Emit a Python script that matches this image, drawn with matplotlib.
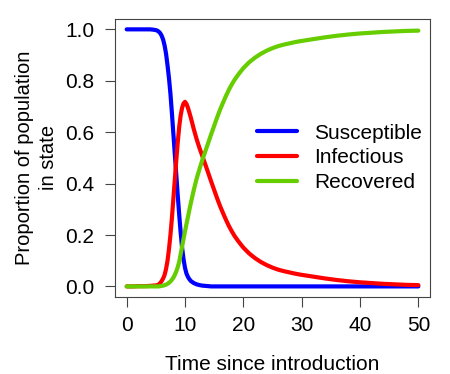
import matplotlib
matplotlib.use("Agg")
import matplotlib.pyplot as plt

# values (time, proportion in each state)
time = [0, 1, 2, 3, 4, 4.5, 5,
        5.25, 5.5, 5.75, 6, 6.25, 6.5, 6.75, 7, 7.25, 7.5, 7.75, 8,
        8.25, 8.5, 8.75, 9, 9.25, 9.5, 9.75, 10, 10.25, 10.5, 10.75, 11,
        11.5, 12, 12.5, 13, 13.5, 14, 14.5, 15, 15.5, 16, 16.5, 17, 17.5,
        18, 18.5, 19, 19.5, 20,
        21, 22, 23, 24, 25, 26, 27, 28, 29, 30,
        32, 34, 36, 38, 40, 42, 44, 46, 48, 50]

susceptible = [1.0, 1.0, 1.0, 1.0, 1.0, 0.999, 0.997,
               0.995, 0.991, 0.985, 0.975, 0.96, 0.937, 0.905, 0.86, 0.81, 0.75, 0.675, 0.595,
               0.515, 0.435, 0.355, 0.28, 0.21, 0.15, 0.105, 0.072, 0.05, 0.037, 0.028, 0.021,
               0.013, 0.008, 0.005, 0.003, 0.002, 0.001, 0.0, 0.0, 0.0, 0.0, 0.0, 0.0, 0.0,
               0.0, 0.0, 0.0, 0.0, 0.0,
               0.0, 0.0, 0.0, 0.0, 0.0, 0.0, 0.0, 0.0, 0.0, 0.0,
               0.0, 0.0, 0.0, 0.0, 0.0, 0.0, 0.0, 0.0, 0.0, 0.0]

infectious = [0.0, 0.0, 0.001, 0.001, 0.002, 0.003, 0.004,
              0.005, 0.008, 0.013, 0.021, 0.031, 0.045, 0.068, 0.10, 0.145, 0.20, 0.265, 0.34,
              0.415, 0.49, 0.56, 0.62, 0.665, 0.695, 0.712, 0.718, 0.71, 0.695, 0.676, 0.656,
              0.612, 0.572, 0.537, 0.505, 0.473, 0.44, 0.407, 0.375, 0.343, 0.313, 0.286, 0.26, 0.236,
              0.215, 0.196, 0.18, 0.165, 0.151,
              0.128, 0.11, 0.095, 0.083, 0.073, 0.065, 0.059, 0.054, 0.049, 0.045,
              0.038, 0.031, 0.025, 0.020, 0.016, 0.013, 0.010, 0.008, 0.006, 0.005]

recovered = [0.0, 0.0, 0.0, 0.0, 0.0, 0.0, 0.0,
             0.0, 0.0, 0.001, 0.002, 0.003, 0.005, 0.007, 0.01, 0.014, 0.019, 0.026, 0.034,
             0.045, 0.058, 0.075, 0.095, 0.125, 0.155, 0.185, 0.215, 0.243, 0.27, 0.298, 0.325,
             0.375, 0.42, 0.458, 0.494, 0.527, 0.56, 0.593, 0.625, 0.657, 0.687, 0.714, 0.74, 0.764,
             0.785, 0.804, 0.82, 0.835, 0.849,
             0.872, 0.89, 0.905, 0.917, 0.927, 0.935, 0.941, 0.946, 0.951, 0.955,
             0.962, 0.969, 0.975, 0.980, 0.984, 0.987, 0.990, 0.992, 0.994, 0.995]

labels = ["Susceptible", "Infectious", "Recovered"]
colors = ["#0000FF", "#FF0000", "#66CD00"]

plt.rcParams["font.family"] = ["Liberation Sans", "DejaVu Sans"]
plt.rcParams["font.size"] = 15

fig = plt.figure(figsize=(4.5, 3.74), dpi=100)
ax = fig.add_axes([0.2556, 0.2067, 0.70, 0.7423])

for values, name, color in zip([susceptible, infectious, recovered], labels, colors):
    ax.plot(time, values, color=color, linewidth=3, label=name,
            solid_capstyle="round", solid_joinstyle="round")

ax.set_xlim(-2, 52)
ax.set_ylim(-0.04, 1.04)
ax.set_xticks([0, 10, 20, 30, 40, 50])
ax.set_yticks([0.0, 0.2, 0.4, 0.6, 0.8, 1.0])
ax.set_yticklabels(["0.0", "0.2", "0.4", "0.6", "0.8", "1.0"])
ax.tick_params(direction="out", length=7, width=0.8, color="#444444")
ax.tick_params(axis="x", pad=7)
ax.tick_params(axis="y", pad=8)
for spine in ax.spines.values():
    spine.set_color("#444444")
    spine.set_linewidth(0.8)

ax.set_xlabel("Time since introduction")
ax.xaxis.set_label_coords(0.5, -0.21)
ax.set_ylabel("Proportion of population\nin state", linespacing=1.35, fontsize=14.5)
ax.yaxis.set_label_coords(-0.18, 0.5)

ax.legend(loc="center left", bbox_to_anchor=(0.45, 0.50), frameon=False,
          borderpad=0, borderaxespad=0, handlelength=1.92, handletextpad=0.82,
          labelspacing=0.27)

fig.savefig("out.png", dpi=100)
